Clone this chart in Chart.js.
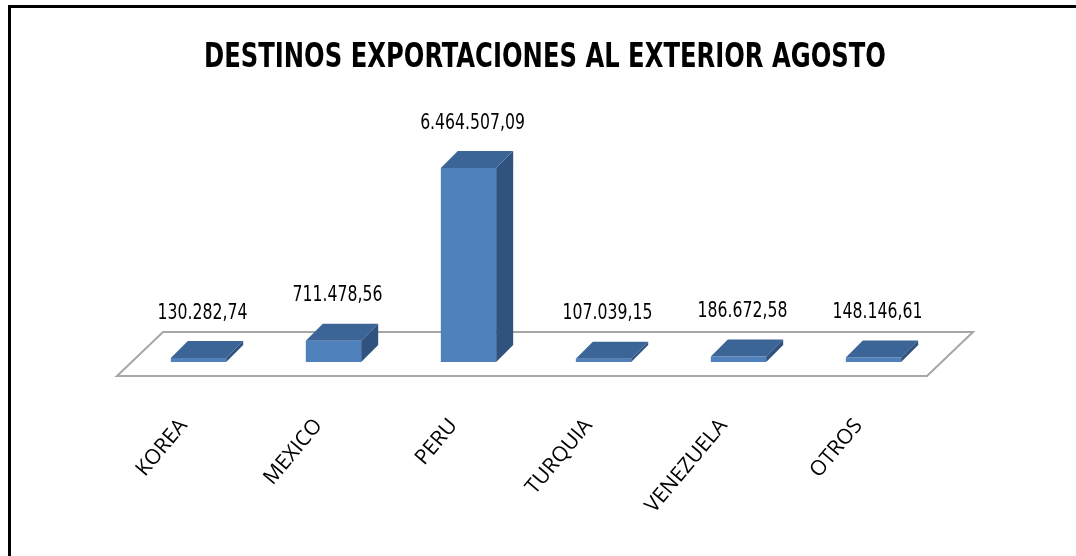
<!DOCTYPE html>
<html lang="es">
<head>
<meta charset="utf-8">
<title>Destinos exportaciones al exterior agosto</title>
<script src="https://cdn.jsdelivr.net/npm/chart.js@4.4.1/dist/chart.umd.min.js"></script>
<style>
  html, body { margin: 0; padding: 0; background: #fff; }
  #wrap { width: 1076px; height: 556px; }
</style>
</head>
<body>
<div id="wrap"><canvas id="exportChart" width="1076" height="556"></canvas></div>
<script>
// ── Data ──────────────────────────────────────────────────
const TITULO   = 'DESTINOS EXPORTACIONES AL EXTERIOR AGOSTO';
const DESTINOS = ['KOREA', 'MEXICO', 'PERU', 'TURQUIA', 'VENEZUELA', 'OTROS'];
const MONTOS   = [130282.74, 711478.56, 6464507.09, 107039.15, 186672.58, 148146.61];
const Y_MAX    = 8000000;

(function () {

  // ── Colours ───────────────────────────────────────────────
  const COLOR_FRONT = '#4f81bd';
  const COLOR_TOP   = '#3c6597';
  const COLOR_SIDE  = '#30527e';
  const COLOR_FLOOR = '#a6a6a6';
  const COLOR_TEXT  = '#000';

  // ── Fake 3D geometry (pixels) ─────────────────────────────
  const BAR_DX = 17, BAR_DY = -17;       // bar depth
  const FLOOR_DX = 46, FLOOR_DY = -44;   // floor depth
  const FLOOR_FRONT = 14;                // floor edge sits in front of the bars

  const NARROW = "'Liberation Sans Narrow', 'DejaVu Sans Condensed', sans-serif";
  const LABEL_FONT = "'Open Sans', sans-serif";

  // ── Number formatter (es: 1.234.567,89) ───────────────────
  function fmt(n) {
    const parts = n.toFixed(2).split('.');
    return parts[0].replace(/\B(?=(\d{3})+(?!\d))/g, '.') + ',' + parts[1];
  }

  // draw text squeezed horizontally by sx, centred on (x, y)
  function narrowText(ctx, text, x, y, sx) {
    ctx.save();
    ctx.translate(x, y);
    ctx.scale(sx, 1);
    ctx.fillText(text, 0, 0);
    ctx.restore();
  }

  // ── Plugin: frame, title, floor, bar faces, labels ────────
  const fake3d = {
    id: 'fake3d',

    beforeDraw(chart) {
      const ctx = chart.ctx;
      ctx.save();
      ctx.fillStyle = '#fff';
      ctx.fillRect(0, 0, chart.width, chart.height);

      // outer frame: only the top and left edges fit in the canvas
      ctx.strokeStyle = '#000';
      ctx.lineWidth = 3;
      ctx.beginPath();
      ctx.moveTo(9.5, chart.height);
      ctx.lineTo(9.5, 6.5);
      ctx.lineTo(chart.width, 6.5);
      ctx.stroke();

      // title, squeezed to a condensed look
      ctx.fillStyle = COLOR_TEXT;
      ctx.font = 'bold 33px ' + NARROW;
      ctx.textAlign = 'center';
      ctx.textBaseline = 'middle';
      const w = ctx.measureText(TITULO).width;
      narrowText(ctx, TITULO, 545, 58, Math.min(1, 682 / w));
      ctx.restore();
    },

    beforeDatasetsDraw(chart) {
      const ctx = chart.ctx;
      const a = chart.chartArea;
      const fl = a.left - FLOOR_FRONT, fr = a.right - FLOOR_FRONT;
      const fy = a.bottom + FLOOR_FRONT;

      ctx.save();
      ctx.strokeStyle = COLOR_FLOOR;
      ctx.lineWidth = 2;
      ctx.beginPath();
      ctx.moveTo(fl, fy);
      ctx.lineTo(fr, fy);
      ctx.lineTo(fr + FLOOR_DX, fy + FLOOR_DY);
      ctx.lineTo(fl + FLOOR_DX, fy + FLOOR_DY);
      ctx.closePath();
      ctx.stroke();
      ctx.restore();
    },

    afterDatasetsDraw(chart) {
      const ctx = chart.ctx;
      const meta = chart.getDatasetMeta(0);
      const xScale = chart.scales.x;

      ctx.save();
      meta.data.forEach((bar, i) => {
        const l = bar.x - bar.width / 2;
        const r = bar.x + bar.width / 2;
        const t = bar.y;
        const b = bar.base;

        // top face
        ctx.fillStyle = COLOR_TOP;
        ctx.beginPath();
        ctx.moveTo(l, t);
        ctx.lineTo(r, t);
        ctx.lineTo(r + BAR_DX, t + BAR_DY);
        ctx.lineTo(l + BAR_DX, t + BAR_DY);
        ctx.closePath();
        ctx.fill();

        // right side face
        ctx.fillStyle = COLOR_SIDE;
        ctx.beginPath();
        ctx.moveTo(r, t);
        ctx.lineTo(r + BAR_DX, t + BAR_DY);
        ctx.lineTo(r + BAR_DX, b + BAR_DY);
        ctx.lineTo(r, b);
        ctx.closePath();
        ctx.fill();

        // value label above the bar
        ctx.fillStyle = COLOR_TEXT;
        ctx.font = '21px ' + NARROW;
        ctx.textAlign = 'center';
        ctx.textBaseline = 'middle';
        narrowText(ctx, fmt(MONTOS[i]), bar.x + 4, t + BAR_DY - 28, 0.83);
      });

      // category labels, rotated
      ctx.font = '21px ' + LABEL_FONT;
      ctx.textAlign = 'right';
      ctx.textBaseline = 'middle';
      DESTINOS.forEach((name, i) => {
        const x = xScale.getPixelForValue(i) - 15;
        ctx.save();
        ctx.translate(x, 422);
        ctx.rotate(-50 * Math.PI / 180);
        ctx.fillText(name, 0, 0);
        ctx.restore();
      });
      ctx.restore();
    }
  };

  // ── Chart ─────────────────────────────────────────────────
  new Chart(document.getElementById('exportChart'), {
    type: 'bar',
    data: {
      labels: DESTINOS,
      datasets: [{
        data: MONTOS,
        backgroundColor: COLOR_FRONT,
        borderWidth: 0,
        barPercentage: 0.41,
        categoryPercentage: 1,
      }]
    },
    options: {
      responsive: false,
      animation: false,
      layout: { padding: { left: 131, right: 135, top: 122, bottom: 194 } },
      plugins: {
        legend: { display: false },
        tooltip: { enabled: false },
        title: { display: false }
      },
      scales: {
        x: { display: false },
        y: { display: false, min: 0, max: Y_MAX }
      }
    },
    plugins: [fake3d]
  });

})();
</script>
</body>
</html>
